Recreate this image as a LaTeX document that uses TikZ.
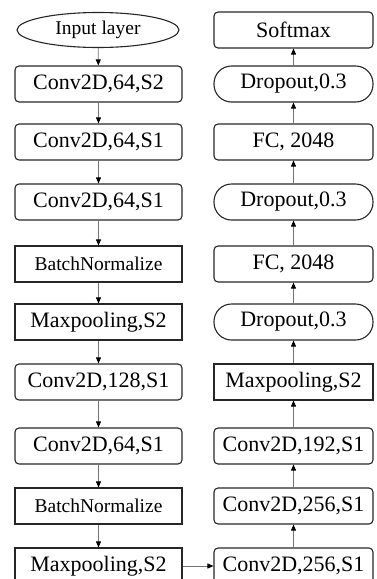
\documentclass[tikz,border=0pt]{standalone}
\usepackage{fontspec}
\setmainfont{Liberation Serif}
\usetikzlibrary{arrows.meta,shapes.geometric}
\begin{document}
\begin{tikzpicture}[x=1pt,y=-1pt,
  box/.style={draw=black!85, line width=1.1pt, minimum height=36pt, inner sep=0pt,
              font=\fontsize{22}{24}\selectfont},
  lcol/.style={minimum width=167pt},
  rcol/.style={minimum width=159pt},
  rbox/.style={box, rounded corners=4pt},
  sbox/.style={box},
  pill/.style={box, rounded corners=17.5pt},
  small/.style={font=\fontsize{19.5}{21}\selectfont},
  conn/.style={draw=black!55, line width=0.8pt, -{Triangle[color=black,width=5pt,length=6pt]}}
]
\useasboundingbox (0,0) rectangle (376,579);
% left column
\node[box, ellipse, minimum width=162pt, minimum height=35pt, small] (in) at (98,30) {Input layer};
\node[rbox, lcol] (l1) at (98.5,84) {Conv2D,64,S2};
\node[rbox, lcol] (l2) at (98.5,142) {Conv2D,64,S1};
\node[rbox, lcol] (l3) at (98.5,202) {Conv2D,64,S1};
\node[sbox, lcol, small] (l4) at (98.5,264) {BatchNormalize};
\node[sbox, lcol] (l5) at (98.5,322) {Maxpooling,S2};
\node[rbox, lcol] (l6) at (98.5,382) {Conv2D,128,S1};
\node[rbox, lcol] (l7) at (98.5,446) {Conv2D,64,S1};
\node[sbox, lcol, small] (l8) at (98.5,506) {BatchNormalize};
\node[sbox, lcol] (l9) at (98.5,566) {Maxpooling,S2};
% right column
\node[rbox, rcol] (r1) at (293.5,30) {Softmax};
\node[pill, rcol] (r2) at (293.5,84) {Dropout,0.3};
\node[rbox, rcol] (r3) at (293.5,142) {FC, 2048};
\node[pill, rcol] (r4) at (293.5,202) {Dropout,0.3};
\node[rbox, rcol] (r5) at (293.5,264) {FC, 2048};
\node[pill, rcol] (r6) at (293.5,322) {Dropout,0.3};
\node[sbox, rcol] (r7) at (293.5,382) {Maxpooling,S2};
\node[rbox, rcol] (r8) at (293.5,446) {Conv2D,192,S1};
\node[rbox, rcol] (r9) at (293.5,506) {Conv2D,256,S1};
\node[rbox, rcol] (r10) at (293.5,566) {Conv2D,256,S1};
% connectors
\foreach \a/\b in {in/l1,l1/l2,l2/l3,l3/l4,l4/l5,l5/l6,l6/l7,l7/l8,l8/l9,
                   r10/r9,r9/r8,r8/r7,r7/r6,r6/r5,r5/r4,r4/r3,r3/r2,r2/r1}
  \draw[conn] (\a) -- (\b);
\draw[conn] (l9) -- (r10);
\end{tikzpicture}
\end{document}
